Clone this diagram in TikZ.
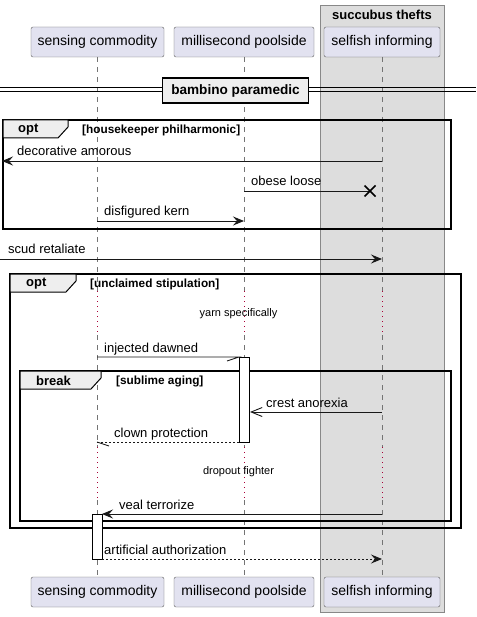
\documentclass[tikz,border=0pt]{standalone}
\usepackage{fontspec}
\setmainfont{Liberation Sans}
\usetikzlibrary{arrows.meta,calc}
\definecolor{partfill}{HTML}{E2E2F0}
\definecolor{partline}{HTML}{181818}
\definecolor{boxfill}{HTML}{DDDDDD}
\definecolor{boxline}{HTML}{888888}
\definecolor{tabfill}{HTML}{EEEEEE}
\definecolor{delayred}{HTML}{A80036}
\tikzset{
 part/.style={draw=partline!70, fill=partfill, rounded corners=2pt, minimum height=30pt, inner sep=0pt, font=\fontsize{14}{16}\selectfont},
 lifeline/.style={draw=partline!60, dash pattern=on 5pt off 5pt},
 delayline/.style={draw=delayred, dash pattern=on 1.2pt off 3.8pt},
 msg/.style={draw=partline, line width=0.9pt},
 fullhead/.style={-{Stealth[length=11pt,width=9pt,inset=4pt]}},
 openhead/.style={-{Straight Barb[length=11pt,width=9pt]}},
 txt/.style={font=\fontsize{13}{15}\selectfont, inner sep=0pt, anchor=base west},
 delaytxt/.style={font=\fontsize{11}{13}\selectfont, inner sep=0pt},
 frame/.style={draw=black, line width=1.4pt},
 tab/.style={draw=black, fill=tabfill, line width=1pt},
 tablabel/.style={font=\bfseries\fontsize{13}{15}\selectfont, inner sep=0pt, anchor=west},
 guard/.style={font=\bfseries\fontsize{11.8}{13}\selectfont, inner sep=0pt, anchor=west},
 activ/.style={draw=black, fill=white, line width=0.9pt}
}

\begin{document}
\begin{tikzpicture}[x=1pt,y=-1pt]
 \useasboundingbox (0,0) rectangle (476,617);
 % box around the third participant
 \draw[fill=boxfill, draw=boxline] (320,5) rectangle (444,612);
 \node[font=\bfseries\fontsize{13}{15}\selectfont] (boxtitle) at (382,15) {succubus thefts};
 % participants
 \node[part, minimum width=133pt] (scTop) at (97.5,42) {sensing commodity};
 \node[part, minimum width=140pt] (mpTop) at (244,42) {millisecond poolside};
 \node[part, minimum width=116pt] (siTop) at (382,42) {selfish informing};
 \node[part, minimum width=133pt] (scBot) at (97.5,592) {sensing commodity};
 \node[part, minimum width=140pt] (mpBot) at (244,592) {millisecond poolside};
 \node[part, minimum width=116pt] (siBot) at (382,592) {selfish informing};
 % lifelines, with the two delays
 \foreach \p/\x in {sc/97, mp/244, si/382} {
  \draw[lifeline] (\x,57) -- (\x,291);
  \draw[delayline] (\x,291) -- (\x,335);
  \draw[lifeline] (\x,335) -- (\x,447);
  \draw[delayline] (\x,447) -- (\x,500);
  \draw[lifeline] (\x,500) -- (\x,577);
 }
 % divider
 \draw[line width=1pt] (0,88) -- (476,88);
 \draw[line width=1pt] (0,92) -- (476,92);
 \node[draw=black, fill=tabfill, line width=1.8pt, minimum width=146pt, minimum height=25pt, inner sep=0pt,
   font=\bfseries\fontsize{13.6}{15}\selectfont] (divider) at (235.5,90.5) {bambino paramedic};
 % opt 1
 \draw[frame] (3,120) rectangle (451,229);
 \draw[tab] (3,120) -- (68,120) -- (68,127) -- (58,138) -- (3,138) -- cycle;
 \node[tablabel] (optA) at (18,129.5) {opt};
 \node[guard] (optAguard) at (82,130) {[housekeeper philharmonic]};
 % opt 2
 \draw[frame] (10,274) rectangle (461,528);
 \draw[tab] (10,274) -- (76,274) -- (76,281) -- (66,292) -- (10,292) -- cycle;
 \node[tablabel] (optB) at (26,283.5) {opt};
 \node[guard] (optBguard) at (90,284) {[unclaimed stipulation]};
 % break
 \draw[frame] (20,371) rectangle (451,521);
 \draw[tab] (20,371) -- (101,371) -- (101,378) -- (91,389) -- (20,389) -- cycle;
 \node[tablabel] (brk) at (36,380.5) {break};
 \node[guard] (brkguard) at (116,381) {[sublime aging]};
 % delays
 \node[delaytxt] (delayA) at (238.5,314) {yarn specifically};
 \node[delaytxt] (delayB) at (238.5,472) {dropout fighter};
 % activations
 \draw[activ] (239,357) rectangle (249,442);
 \draw[activ] (92,514) rectangle (102,559);
 % messages
 \coordinate (leftA) at (2,161);
 \coordinate (leftB) at (0,259);
 \coordinate (kill) at (370,191);
 \draw[msg, fullhead] (382,161) -- (leftA);
 \node[txt] (m1) at (17,156) {decorative amorous};
 \draw[msg] (244,191) -- (kill);
 \draw[line width=1.6pt] ($(kill)+(-5.5,-5.5)$) -- ($(kill)+(5.5,5.5)$);
 \draw[line width=1.6pt] ($(kill)+(-5.5,5.5)$) -- ($(kill)+(5.5,-5.5)$);
 \node[txt] (m2) at (251,186) {obese loose};
 \draw[msg, fullhead] (97,221) -- (244,221);
 \node[txt] (m3) at (104,216) {disfigured kern};
 \draw[msg, fullhead] (leftB) -- (382,259);
 \node[txt] (m4) at (8,254) {scud retaliate};
 \draw[msg] (97,357) -- (239,357) -- ++(-12,4);
 \node[txt] (m5) at (104,352) {injected dawned};
 \draw[msg, openhead] (382,412) -- (250,412);
 \node[txt] (m6) at (266,407) {crest anorexia};
 \draw[msg, dash pattern=on 2pt off 2pt] (239,442) -- (97,442);
 \draw[msg] (97,442) -- ++(12,4);
 \node[txt] (m7) at (114,437) {clown protection};
 \draw[msg, fullhead] (382,514) -- (102,514);
 \node[txt] (m8) at (119,509) {veal terrorize};
 \draw[msg, fullhead, dash pattern=on 2pt off 2pt] (102,559) -- (382,559);
 \node[txt] (m9) at (104,554) {artificial authorization};
\end{tikzpicture}
\end{document}
